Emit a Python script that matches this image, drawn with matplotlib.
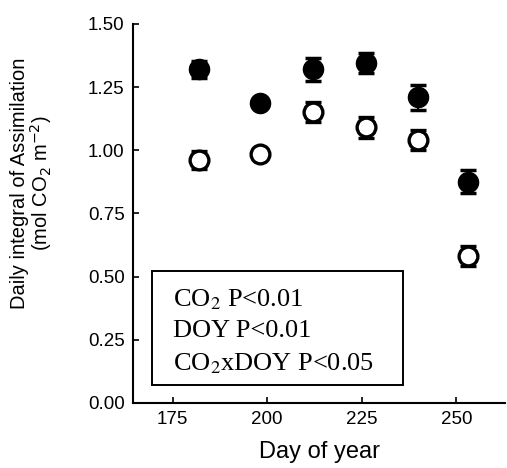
import numpy as np
import matplotlib.pyplot as plt
from matplotlib.patches import Rectangle

plt.rcParams['font.family'] = ['Liberation Sans', 'DejaVu Sans']

# data
day = [182, 198, 212, 226, 240, 253]
elevated = [1.32, 1.185, 1.32, 1.345, 1.21, 0.875]
elevated_err = [0.035, 0.0, 0.045, 0.04, 0.05, 0.045]
ambient = [0.96, 0.985, 1.15, 1.09, 1.04, 0.58]
ambient_err = [0.035, 0.0, 0.04, 0.04, 0.04, 0.04]

stats_lines = ["CO$_2$ P<0.01", "DOY P<0.01", "CO$_2$xDOY P<0.05"]

fig = plt.figure(figsize=(5.07, 4.68), dpi=100)
ax = fig.add_axes([0.262, 0.139, 0.735, 0.81])

ax.errorbar(day, elevated, yerr=elevated_err, fmt='o', color='black',
            mfc='black', mec='black', ms=14.5, capsize=6, elinewidth=1.5, capthick=2.5)
ax.errorbar(day, ambient, yerr=ambient_err, fmt='o', color='black',
            mfc='white', mec='black', mew=2.4, ms=13.5, capsize=6, elinewidth=1.5, capthick=2.5)

ax.set_xlim(164.5, 263)
ax.set_ylim(0, 1.5)
ax.set_xticks([175, 200, 225, 250])
ax.set_yticks([0, 0.25, 0.5, 0.75, 1.0, 1.25, 1.5])
ax.set_yticklabels(['0.00', '0.25', '0.50', '0.75', '1.00', '1.25', '1.50'])
ax.tick_params(direction='in', length=4, width=1.2, labelsize=13.5, pad=6)
for s in ['top', 'right']:
    ax.spines[s].set_visible(False)
for s in ['left', 'bottom']:
    ax.spines[s].set_linewidth(1.5)

ax.set_xlabel('Day of year', fontsize=17, labelpad=9)
ax.set_ylabel('Daily integral of Assimilation\n(mol CO$_2$ m$^{-2}$)', fontsize=14.5,
              linespacing=0.95)
ax.yaxis.set_label_coords(-0.212, 0.58)

# stats box
ax.add_patch(Rectangle((169.5, 0.071), 66.5, 0.451, fill=False, ec='black', lw=1.4))
for i, line in enumerate(stats_lines):
    ax.text(175.0, 0.41 - i * 0.1265, line, fontsize=19, family='Liberation Serif',
            math_fontfamily='stix', va='center', ha='left')

fig.savefig('out.png', dpi=100)
